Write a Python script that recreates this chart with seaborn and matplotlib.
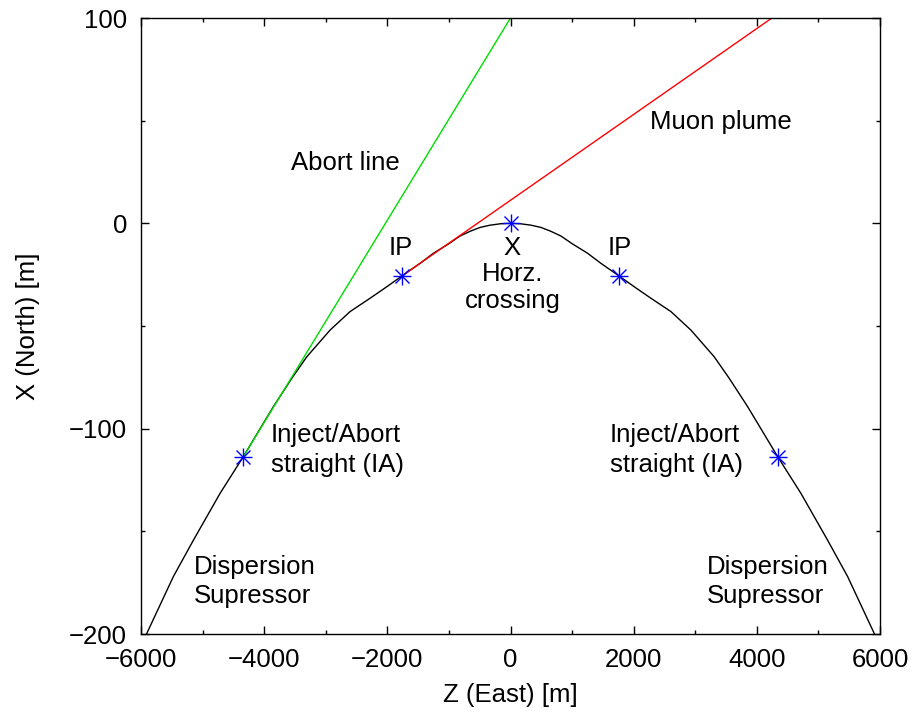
import numpy as np
import pandas as pd
import matplotlib
matplotlib.use("Agg")
import matplotlib.pyplot as plt
from matplotlib.ticker import MultipleLocator
import seaborn as sns

# ---- data ----
ring_z = [-5980, -5906, -5474, -5149, -4716, -4340, -3851, -3552, -3308, -2930,
          -2606, -2281, -2010, -1766, -1469, -1253, -1000, -820, -650, -495, -333, -160, 0,
          160, 333, 495, 650, 820, 1000, 1253, 1469, 1766, 2010, 2281, 2606,
          2930, 3308, 3552, 3851, 4340, 4716, 5149, 5474, 5906, 5980]
ring_x = [-204.6, -199.7, -172.0, -154.3, -131.5, -113.7, -89.3, -75.5, -65.0, -52.0,
          -43.0, -36.5, -30.9, -25.7, -19.5, -14.6, -9.9, -6.2, -3.8, -2.0, -0.9, -0.2, 0.0,
          -0.2, -0.9, -2.0, -3.8, -6.2, -9.9, -14.6, -19.5, -25.7, -30.9, -36.5, -43.0,
          -52.0, -65.0, -75.5, -89.3, -113.7, -131.5, -154.3, -172.0, -199.7, -204.6]

abort_z = [-4340, 0]
abort_x = [-113.7, 100]

muon_z = [-1766, 4245]
muon_x = [-25.7, 100]

pts_z = [-4340, -1766, 0, 1766, 4340]
pts_x = [-113.7, -25.7, 0.0, -25.7, -113.7]

labels = [
    ("Abort line", -2687, 29.4, "center"),
    ("Muon plume", 3417, 49.3, "center"),
    ("IP", -1778, -11.8, "center"),
    ("IP", 1778, -11.8, "center"),
    ("X", 30, -12.0, "center"),
    ("Horz.", 40, -24.6, "center"),
    ("crossing", 40, -37.8, "center"),
    ("Inject/Abort", -3890, -103.0, "left"),
    ("straight (IA)", -3890, -117.6, "left"),
    ("Inject/Abort", 1615, -103.0, "left"),
    ("straight (IA)", 1615, -117.6, "left"),
    ("Dispersion", -5149, -167.4, "left"),
    ("Supressor", -5149, -181.6, "left"),
    ("Dispersion", 3185, -167.4, "left"),
    ("Supressor", 3185, -181.6, "left"),
]

sns.set_style("white")
plt.rcParams['font.family'] = ['Liberation Sans', 'DejaVu Sans']
plt.rcParams['axes.unicode_minus'] = True
plt.rcParams['text.color'] = 'black'
plt.rcParams['axes.labelcolor'] = 'black'
plt.rcParams['xtick.color'] = 'black'
plt.rcParams['ytick.color'] = 'black'

FS = 18.5

fig = plt.figure(figsize=(9.15, 7.19), dpi=100)
ax = fig.add_axes([141/915, 1 - 634/719, (880-141)/915, (634-18)/719])

ring = pd.DataFrame({"z": ring_z, "x": ring_x})
sns.lineplot(data=ring, x="z", y="x", ax=ax, color="black", lw=1.0,
             sort=False, estimator=None)
sns.lineplot(x=abort_z, y=abort_x, ax=ax, color="#00dd00", lw=1.0,
             sort=False, estimator=None)
sns.lineplot(x=muon_z, y=muon_x, ax=ax, color="#ff0000", lw=1.0,
             sort=False, estimator=None)

ax.plot(pts_z, pts_x, linestyle="none", marker="+", markersize=13,
        markeredgewidth=1.0, color="#0000ff", zorder=5)
ax.plot(pts_z, pts_x, linestyle="none", marker="x", markersize=10,
        markeredgewidth=1.0, color="#0000ff", zorder=5)

for txt, zz, xx, ha in labels:
    ax.text(zz, xx, txt, ha=ha, va="center", fontsize=FS, color="black")

ax.set_xlim(-6000, 6000)
ax.set_ylim(-200, 100)
ax.xaxis.set_major_locator(MultipleLocator(2000))
ax.xaxis.set_minor_locator(MultipleLocator(1000))
ax.yaxis.set_major_locator(MultipleLocator(100))
ax.yaxis.set_minor_locator(MultipleLocator(50))
ax.tick_params(which="both", direction="in", top=True, right=True,
               bottom=True, left=True, color="black", labelcolor="black", width=1.0)
ax.tick_params(which="major", length=6, labelsize=FS, pad=10)
ax.tick_params(which="minor", length=3)
for s in ax.spines.values():
    s.set_color("black")
    s.set_linewidth(1.0)

ax.set_xlabel("Z (East) [m]", fontsize=FS, labelpad=8, color="black")
ax.set_ylabel("X (North) [m]", fontsize=FS, labelpad=21, color="black")

fig.savefig("out.png", dpi=100)
